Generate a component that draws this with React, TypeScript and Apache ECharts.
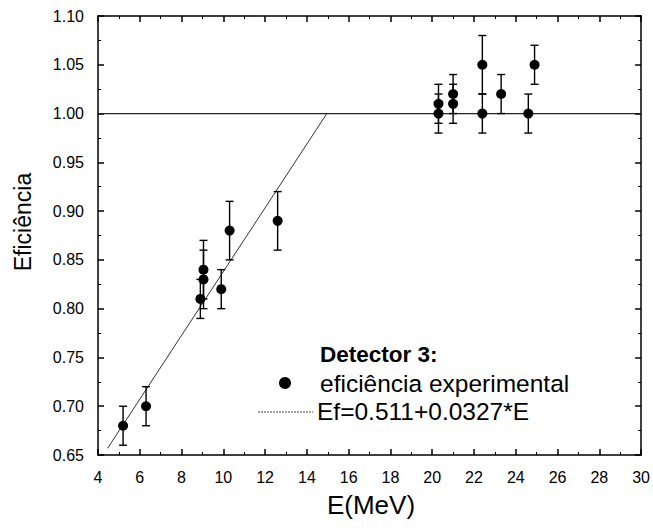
import React, { useEffect, useRef } from "react";
import * as echarts from "echarts";

// Data
const energy = [5.2, 6.3, 8.9, 9.05, 9.05, 9.9, 10.3, 12.6, 20.3, 20.3, 21.0, 21.0, 22.4, 22.4, 23.3, 24.6, 24.9];
const efficiency = [0.68, 0.70, 0.81, 0.83, 0.84, 0.82, 0.88, 0.89, 1.00, 1.01, 1.01, 1.02, 1.05, 1.00, 1.02, 1.00, 1.05];
const errors = [0.02, 0.02, 0.02, 0.03, 0.03, 0.02, 0.03, 0.03, 0.02, 0.02, 0.02, 0.02, 0.03, 0.02, 0.02, 0.02, 0.02];

// Fit: Ef = 0.511 + 0.0327*E, saturating at 1.00
const fitIntercept = 0.511;
const fitSlope = 0.0327;
const fitStartE = 4.46;
const plateau = 1.0;

const xMin = 4, xMax = 30, xInterval = 2;
const yMin = 0.65, yMax = 1.10, yInterval = 0.05;

const legendTitle = "Detector 3:";
const legendPoints = "eficiência experimental";
const legendFit = "Ef=0.511+0.0327*E";
const xName = "E(MeV)";
const yName = "Eficiência";

const FONT = "'Liberation Sans', Arial, Helvetica, sans-serif";

export default function App() {
  const ref = useRef<HTMLDivElement>(null);

  useEffect(() => {
    if (!ref.current) return;
    const chart = echarts.init(ref.current, undefined, { renderer: "svg" });

    const points = energy.map((e, i) => [e, efficiency[i], errors[i]]);
    const breakE = (plateau - fitIntercept) / fitSlope;
    const fitLine = [
      [fitStartE, fitIntercept + fitSlope * fitStartE],
      [breakE, plateau],
    ];
    const plateauLine = [
      [xMin, plateau],
      [xMax, plateau],
    ];

    const tickCommon = {
      axisLine: { show: true, lineStyle: { color: "#000", width: 1.5 } },
      axisTick: { show: true, inside: true, length: 6, lineStyle: { color: "#000", width: 1.5 } },
      minorTick: { show: true, splitNumber: 2, length: 3, lineStyle: { color: "#000", width: 1 } },
      splitLine: { show: false },
      minorSplitLine: { show: false },
    };

    chart.setOption({
      animation: false,
      backgroundColor: "#fff",
      grid: { left: 98, right: 10, top: 16, bottom: 73 },
      xAxis: [
        {
          type: "value",
          min: xMin,
          max: xMax,
          interval: xInterval,
          position: "bottom",
          ...tickCommon,
          axisLabel: { color: "#000", fontSize: 16, fontFamily: FONT, margin: 14 },
        },
        {
          type: "value",
          min: xMin,
          max: xMax,
          interval: xInterval,
          position: "top",
          ...tickCommon,
          axisLabel: { show: false },
        },
      ],
      yAxis: [
        {
          type: "value",
          min: yMin,
          max: yMax,
          interval: yInterval,
          position: "left",
          ...tickCommon,
          axisLabel: {
            color: "#000",
            fontSize: 16,
            fontFamily: FONT,
            margin: 14,
            formatter: (v: number) => v.toFixed(2),
          },
        },
        {
          type: "value",
          min: yMin,
          max: yMax,
          interval: yInterval,
          position: "right",
          ...tickCommon,
          axisLabel: { show: false },
        },
      ],
      series: [
        {
          type: "line",
          data: plateauLine,
          symbol: "none",
          lineStyle: { color: "#222", width: 1.2 },
          z: 2,
        },
        {
          type: "line",
          data: fitLine,
          symbol: "none",
          lineStyle: { color: "#333", width: 1 },
          z: 2,
        },
        {
          type: "custom",
          data: points,
          z: 3,
          renderItem: (params: any, api: any) => {
            const x = api.value(0);
            const y = api.value(1);
            const e = api.value(2);
            const top = api.coord([x, y + e]);
            const bot = api.coord([x, y - e]);
            const hw = 4;
            const style = { stroke: "#000", lineWidth: 1.4 };
            return {
              type: "group",
              children: [
                { type: "line", shape: { x1: top[0], y1: top[1], x2: bot[0], y2: bot[1] }, style },
                { type: "line", shape: { x1: top[0] - hw, y1: top[1], x2: top[0] + hw, y2: top[1] }, style },
                { type: "line", shape: { x1: bot[0] - hw, y1: bot[1], x2: bot[0] + hw, y2: bot[1] }, style },
              ],
            };
          },
        },
        {
          type: "scatter",
          data: points.map((p) => [p[0], p[1]]),
          symbol: "circle",
          symbolSize: 10,
          itemStyle: { color: "#000", opacity: 1 },
          z: 4,
        },
      ],
      graphic: [
        {
          type: "text",
          x: 371,
          y: 505,
          style: {
            text: xName,
            fontSize: 26,
            fontFamily: FONT,
            fill: "#000",
            align: "center",
            verticalAlign: "middle",
          },
        },
        {
          type: "text",
          x: 23,
          y: 222,
          rotation: Math.PI / 2,
          style: {
            text: yName,
            fontSize: 23,
            fontFamily: FONT,
            fill: "#000",
            align: "center",
            verticalAlign: "middle",
          },
        },
        {
          type: "text",
          x: 320,
          y: 354,
          style: {
            text: legendTitle,
            fontSize: 22.5,
            fontWeight: "bold",
            fontFamily: FONT,
            fill: "#000",
            align: "left",
            verticalAlign: "middle",
          },
        },
        {
          type: "circle",
          shape: { cx: 285, cy: 383, r: 6 },
          style: { fill: "#000" },
        },
        {
          type: "text",
          x: 320,
          y: 383,
          style: {
            text: legendPoints,
            fontSize: 24.5,
            fontFamily: FONT,
            fill: "#000",
            align: "left",
            verticalAlign: "middle",
          },
        },
        {
          type: "line",
          shape: { x1: 258, y1: 412, x2: 313, y2: 412 },
          style: { stroke: "#444", lineWidth: 1, lineDash: [2, 1] },
        },
        {
          type: "text",
          x: 317,
          y: 411,
          style: {
            text: legendFit,
            fontSize: 24.5,
            fontFamily: FONT,
            fill: "#000",
            align: "left",
            verticalAlign: "middle",
          },
        },
      ],
    });

    return () => chart.dispose();
  }, []);

  return (
    <div
      ref={ref}
      style={{ position: "fixed", left: 0, top: 0, width: 653, height: 528 }}
    />
  );
}
